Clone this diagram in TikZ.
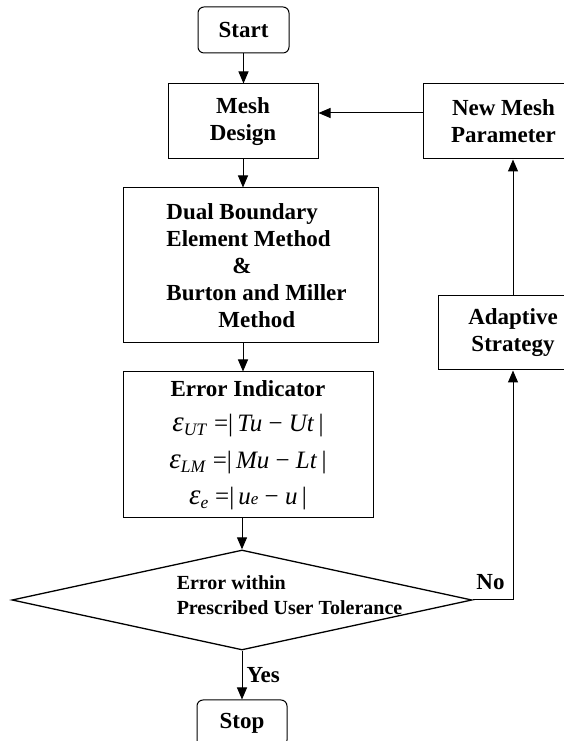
\documentclass[tikz,border=0pt]{standalone}
\usepackage{fontspec}
\setmainfont{Liberation Serif}
\usetikzlibrary{shapes.geometric,arrows.meta}
\newcommand\mi[1]{\textit{#1}}
\newcommand\errformula[1]{{\mdseries\fontsize{25}{27}\selectfont #1}}
\newcommand\bigeps{{\fontsize{29}{27}\selectfont\mi{ε}}}

\begin{document}
\begin{tikzpicture}[x=1pt, y=1pt,
    box/.style={draw, line width=1pt, inner sep=0pt, align=center,
        font=\fontsize{23}{27}\selectfont\bfseries},
    endbox/.style={box, rounded corners=6pt},
    decision/.style={draw, diamond, line width=1.3pt, inner sep=0pt,
        minimum width=460pt, minimum height=100pt},
    tag/.style={inner sep=0pt, font=\fontsize{23}{27}\selectfont\bfseries},
    flow/.style={line width=1pt, -{Triangle[length=12pt, width=10pt]}}]
    \useasboundingbox (0,0) rectangle (564,741);

    % 主流程
    \node[endbox, minimum width=91pt, minimum height=46pt] (start) at (243.5,711) {Start};
    \node[box, minimum width=150pt, minimum height=75pt] (mesh) at (243,619.5) {Mesh\\Design};
    \node[box, align=left, minimum width=255pt, minimum height=155pt] (dual) at (250.5,475.5)
        {\hspace*{12pt}Dual Boundary\\\hspace*{12pt}Element Method\\\hspace*{12pt}\hspace*{66pt}\&\\
         \hspace*{12pt}Burton and Miller\\\hspace*{12pt}\hspace*{52pt}Method};
    \node[box, minimum width=250pt, minimum height=146pt] (err) at (248,296)
        {Error Indicator\\[8pt]
         \errformula{\bigeps\textsubscript{\mi{UT}} =|\,\mi{Tu} − \mi{Ut}\,|}\\[10pt]
         \errformula{\bigeps\textsubscript{\mi{LM}} =|\,\mi{Mu} − \mi{Lt}\,|}\\[9pt]
         \errformula{\bigeps\textsubscript{\mi{e}} =|\,\mi{u}{\fontsize{17}{17}\selectfont\mi{e}} − \mi{u}\,|}};

    % 判断
    \node[decision] (check) at (242,141) {};
    \node[tag, font=\fontsize{20}{25}\selectfont\bfseries, align=left] (checktext) at (289.5,146)
        {Error within\\Prescribed User Tolerance};
    \node[endbox, minimum width=90pt, minimum height=46pt] (stop) at (242,18) {Stop};

    % 自适应回路
    \node[box, minimum width=150pt, minimum height=74pt] (adapt) at (513,408) {Adaptive\\Strategy};
    \node[box, minimum width=161pt, minimum height=75pt] (newmesh) at (503.5,619.5) {New Mesh\\Parameter};
    \node[tag] (no) at (490.5,159) {No};

    \draw[flow] (start.south) -- (start.south |- mesh.north);
    \draw[flow] ([yshift=8.5pt]newmesh.west) -- ([yshift=8.5pt]newmesh.west -| mesh.east);
    \draw[flow] (mesh.south) -- (mesh.south |- dual.north);
    \draw[flow] (mesh.south |- dual.south) -- (mesh.south |- err.north);
    \draw[flow] (check.north |- err.south) -- (check.north);
    \draw[flow] (check.south) -- (check.south |- stop.north)
        node[tag, midway, right=4pt] (yes) {Yes};
    \draw[flow] (check.east) -| (adapt.south);
    \draw[flow] (adapt.north) -- (adapt.north |- newmesh.south);
\end{tikzpicture}
\end{document}
